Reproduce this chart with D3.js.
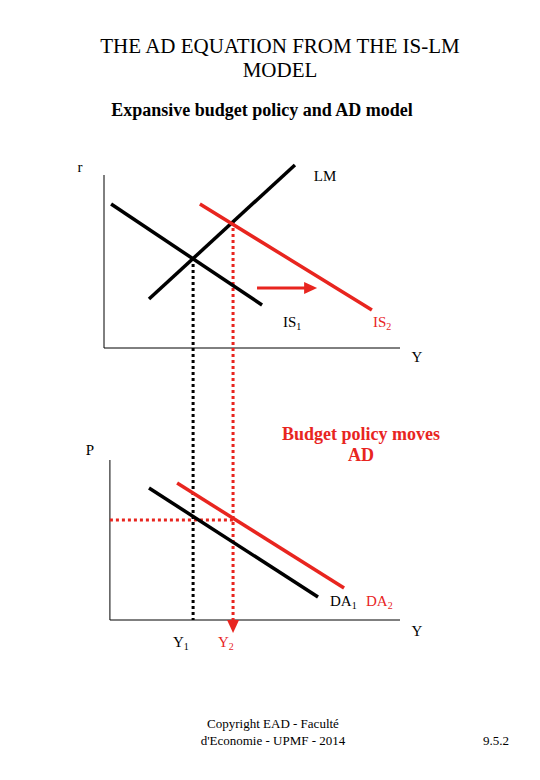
<!DOCTYPE html><html><head><meta charset="utf-8"><script src="https://cdn.jsdelivr.net/npm/d3@7"></script>
<style>body{margin:0;background:#fff}text{font-family:"Liberation Serif",serif}</style></head><body><script>
const LM=[[15.2,28.3],[64.5,105.8]];
const IS1=[[2.4,83.2],[53.4,24.9]];
const IS2=[[32.4,83.2],[90.5,22]];
const DA1=[[15.2,82.5],[72.3,14.4]];
const DA2=[[24.7,85.6],[81.1,20]];
const Yeq=[30.1,43.6];
const rEq=[52,72.8];
const Peq=62.5;
const shift=[[51.7,34.7],[72,34.7]];
const W=540,H=780,red="#e8251f";
const svg=d3.select("body").append("svg").attr("width",W).attr("height",H);
const x=d3.scaleLinear().domain([0,100]).range([104,400]);
const yt=d3.scaleLinear().domain([0,100]).range([348,175]);
const yb=d3.scaleLinear().domain([0,100]).range([620,460]);
function T(t,px,py,o={}){svg.append("text").attr("x",px).attr("y",py).attr("text-anchor",o.a||"middle").attr("font-size",o.s||16).attr("font-weight",o.b?"bold":null).attr("fill",o.c||"#000").text(t);}
T("THE AD EQUATION FROM THE IS-LM",280,53,{s:21});T("MODEL",280,77,{s:21});
T("Expansive budget policy and AD model",262,116,{s:18,b:1});
const ln=(a,b,c,d,col,w,dash)=>svg.append("line").attr("x1",a).attr("y1",b).attr("x2",c).attr("y2",d).attr("stroke",col).attr("stroke-width",w).attr("stroke-dasharray",dash||null);
ln(x(0),yt(100),x(0),yt(0),"#000",1);ln(x(0),yt(0),x(100),yt(0),"#000",1);
ln(x(2),yb(100),x(2),yb(0),"#000",1);ln(x(2),yb(0),x(100),yb(0),"#000",1);
const L=(d,s,col)=>ln(x(d[0][0]),s(d[0][1]),x(d[1][0]),s(d[1][1]),col,3.5);
ln(x(Yeq[0]),yt(rEq[0]),x(Yeq[0]),yb(0),"#000",3,"3,3");
ln(x(Yeq[1]),yt(rEq[1]),x(Yeq[1]),yb(0)+2,red,3,"3,3");
ln(x(2),yb(Peq),x(Yeq[1]),yb(Peq),red,3,"3,3");
svg.append("path").attr("d",`M${x(Yeq[1])-6},${yb(0)}L${x(Yeq[1])+6},${yb(0)}L${x(Yeq[1])},${yb(0)+13}Z`).attr("fill",red);
L(LM,yt,"#000");L(IS1,yt,"#000");L(IS2,yt,red);L(DA1,yb,"#000");L(DA2,yb,red);
ln(x(shift[0][0]),yt(shift[0][1]),x(shift[1][0])-10,yt(shift[1][1]),red,3);
svg.append("path").attr("d",`M${x(shift[1][0])},${yt(shift[1][1])}l-13,-6l0,12Z`).attr("fill",red);
T("r",80,172,{s:15});T("LM",325,181,{s:15});T("Y",417,362,{s:15});
svg.append("text").attr("x",283).attr("y",327).attr("font-size",15).html('IS<tspan font-size="10" dy="3">1</tspan>');
svg.append("text").attr("x",373).attr("y",327).attr("font-size",15).attr("fill",red).html('IS<tspan font-size="10" dy="3">2</tspan>');
T("P",90,455,{s:15});T("Y",417,636,{s:15});
T("Budget policy moves",361,440,{s:18,b:1,c:red});T("AD",361,461,{s:18,b:1,c:red});
svg.append("text").attr("x",330).attr("y",606).attr("font-size",15).html('DA<tspan font-size="10" dy="3">1</tspan>');
svg.append("text").attr("x",366).attr("y",606).attr("font-size",15).attr("fill",red).html('DA<tspan font-size="10" dy="3">2</tspan>');
svg.append("text").attr("x",173).attr("y",647).attr("font-size",15).html('Y<tspan font-size="10" dy="3">1</tspan>');
svg.append("text").attr("x",218).attr("y",647).attr("font-size",15).attr("fill",red).html('Y<tspan font-size="10" dy="3">2</tspan>');
T("Copyright EAD - Faculté",273,728,{s:13});T("d'Economie - UPMF - 2014",273,745,{s:13});T("9.5.2",496,745,{s:13});
</script></body></html>
